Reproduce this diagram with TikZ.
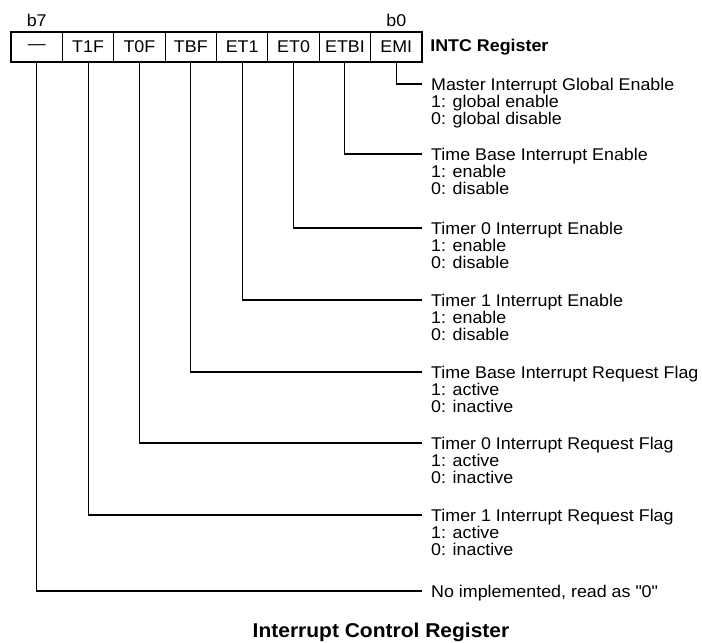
\documentclass[tikz,border=0pt]{standalone}
\usepackage{fontspec}
\setmainfont{Liberation Sans}[FakeStretch=1.05]
\usetikzlibrary{positioning}

\tikzset{
  cell/.style={draw,line width=1.1pt,minimum width=51.375pt,minimum height=30pt,inner sep=0pt},
  desc/.style={anchor=north west,align=left,inner sep=0pt},
  wire/.style={line width=1.1pt}
}

\begin{document}
\begin{tikzpicture}[x=1pt,y=-1pt,every node/.style={font=\fontsize{17}{17.3}\selectfont}]
  \useasboundingbox (0,0) rectangle (702,643);
  % register cells
  \foreach \i/\lab in {7/\textemdash,6/T1F,5/T0F,4/TBF,3/ET1,2/ET0,1/ETBI,0/EMI}{
    \node[cell] (bit\i) at ({36.69+(7-\i)*51.375},47) {\lab};
  }
  \node[above=1.5pt of bit7] (msb) {b7};
  \node[above=1.5pt of bit0] (lsb) {b0};
  \node[right=4.3pt of bit0] (regname) {\bfseries INTC Register};

  % bit descriptions
  \foreach \i/\y/\head/\ena/\dis in {
    0/84/Master Interrupt Global Enable/global enable/global disable,
    1/154/Time Base Interrupt Enable/enable/disable,
    2/228/Timer 0 Interrupt Enable/enable/disable,
    3/300/Timer 1 Interrupt Enable/enable/disable,
    4/372/Time Base Interrupt Request Flag/active/inactive,
    5/443/Timer 0 Interrupt Request Flag/active/inactive,
    6/515/Timer 1 Interrupt Request Flag/active/inactive}{
    \coordinate (end\i) at (422,\y);
    \draw[wire] (bit\i.south) |- (end\i);
    \node[desc] (desc\i) at (431,\y-6.3) {\head\\1: \ena\\0: \dis};
  }
  \coordinate (end7) at (422,591);
  \draw[wire] (bit7.south) |- (end7);
  \node[desc] (desc7) at (431,591-6.3) {No implemented, read as \textquotedbl 0\textquotedbl};

  \node[anchor=base,font=\fontsize{20}{24}\selectfont\bfseries] (caption) at (381,637) {Interrupt Control Register};
\end{tikzpicture}
\end{document}
